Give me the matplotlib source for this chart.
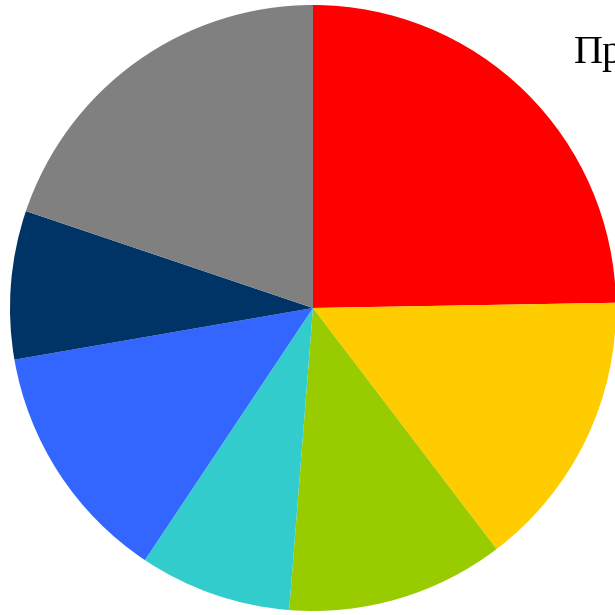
import matplotlib
matplotlib.use("Agg")
import matplotlib.pyplot as plt

categories = ["A", "B", "C", "D", "E", "F", "G"]
values = [24.7, 14.9, 11.6, 8.1, 12.9, 7.9, 19.8]
colors = ["#FF0000", "#FFCC00", "#99CC00", "#33CCCC", "#3366FF", "#003366", "#808080"]
title_text = "Пр"

W = 615
fig = plt.figure(figsize=(6.15, 6.15), dpi=100)
cx, cy, r = 313, 308, 303
ax = fig.add_axes([(cx - r) / W, (W - cy - r) / W, 2 * r / W, 2 * r / W])
ax.pie(values, colors=colors, startangle=90, counterclock=False,
       radius=1.0, wedgeprops=dict(linewidth=0, edgecolor="none"))
ax.set_xlim(-1, 1)
ax.set_ylim(-1, 1)
ax.set_aspect("equal")
ax.axis("off")

fig.text(574 / W, 1 - 63 / W, title_text, fontsize=29,
         family=["Liberation Serif", "DejaVu Serif"], ha="left", va="baseline")

fig.savefig("out.png", dpi=100)
